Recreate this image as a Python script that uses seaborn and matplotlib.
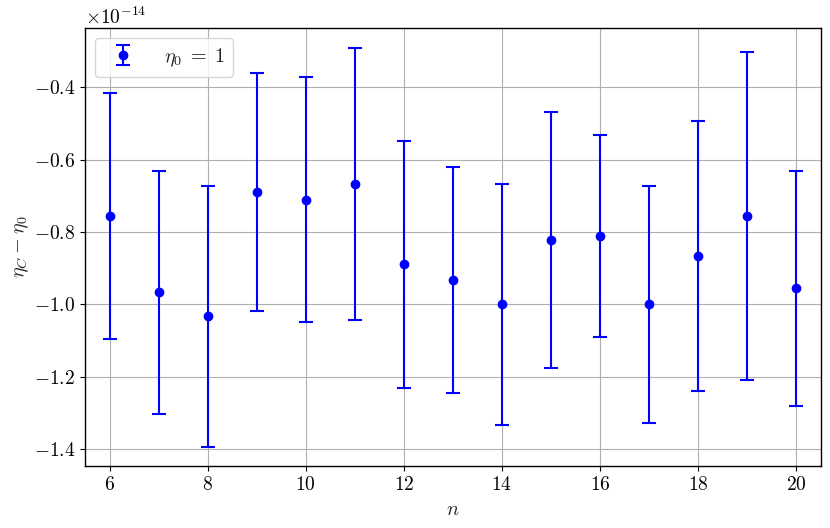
import numpy as np
import pandas as pd
import seaborn as sns
import matplotlib
matplotlib.use('Agg')
import matplotlib.pyplot as plt

n_values = [6, 7, 8, 9, 10, 11, 12, 13, 14, 15, 16, 17, 18, 19, 20]
# eta_C - eta_0, in units of 1e-14
diff_mean = [-0.756, -0.967, -1.033, -0.689, -0.711, -0.667, -0.889, -0.933,
             -1.000, -0.822, -0.811, -1.000, -0.866, -0.756, -0.956]
diff_err = [0.341, 0.335, 0.361, 0.329, 0.339, 0.375, 0.341, 0.312,
            0.334, 0.355, 0.279, 0.328, 0.373, 0.453, 0.324]
scale = 1e-14

df = pd.DataFrame({'n': n_values,
                   'diff': np.array(diff_mean) * scale,
                   'err': np.array(diff_err) * scale})

sns.set_theme(style='ticks')
plt.rcParams['font.family'] = 'serif'
plt.rcParams['font.serif'] = ['cmr10', 'DejaVu Serif']
plt.rcParams['mathtext.fontset'] = 'cm'
plt.rcParams['axes.formatter.use_mathtext'] = True
plt.rcParams['font.size'] = 14
plt.rcParams['axes.labelsize'] = 14.5
plt.rcParams['xtick.labelsize'] = 14
plt.rcParams['ytick.labelsize'] = 14
plt.rcParams['legend.fontsize'] = 14.5

fig, ax = plt.subplots(figsize=(8.3, 5.28), dpi=100)
fig.subplots_adjust(left=0.1024, right=0.9888, top=0.947, bottom=0.1174)

ax.errorbar(df['n'], df['diff'], yerr=df['err'], fmt='o', color='blue',
            ecolor='blue', capsize=5, elinewidth=1.5, capthick=1.5,
            markersize=6, label=r'$\eta_0 \;=\; 1$')

ax.set_xlim(5.5, 20.5)
ax.set_ylim(-1.447e-14, -0.236e-14)
ax.set_xticks([6, 8, 10, 12, 14, 16, 18, 20])
ax.grid(True, color='#b0b0b0', linewidth=0.8)
for s in ax.spines.values():
    s.set_color('black')
    s.set_linewidth(1.0)
ax.tick_params(colors='black', direction='out', length=3.5, width=0.8)

ax.set_xlabel(r'$n$', labelpad=5)
ax.set_ylabel(r'$\eta_C - \eta_0$', labelpad=2)
ax.legend(loc='upper left', fancybox=True, framealpha=0.8, edgecolor='#cccccc',
          handletextpad=1.0)

fig.savefig('out.png', dpi=100)
